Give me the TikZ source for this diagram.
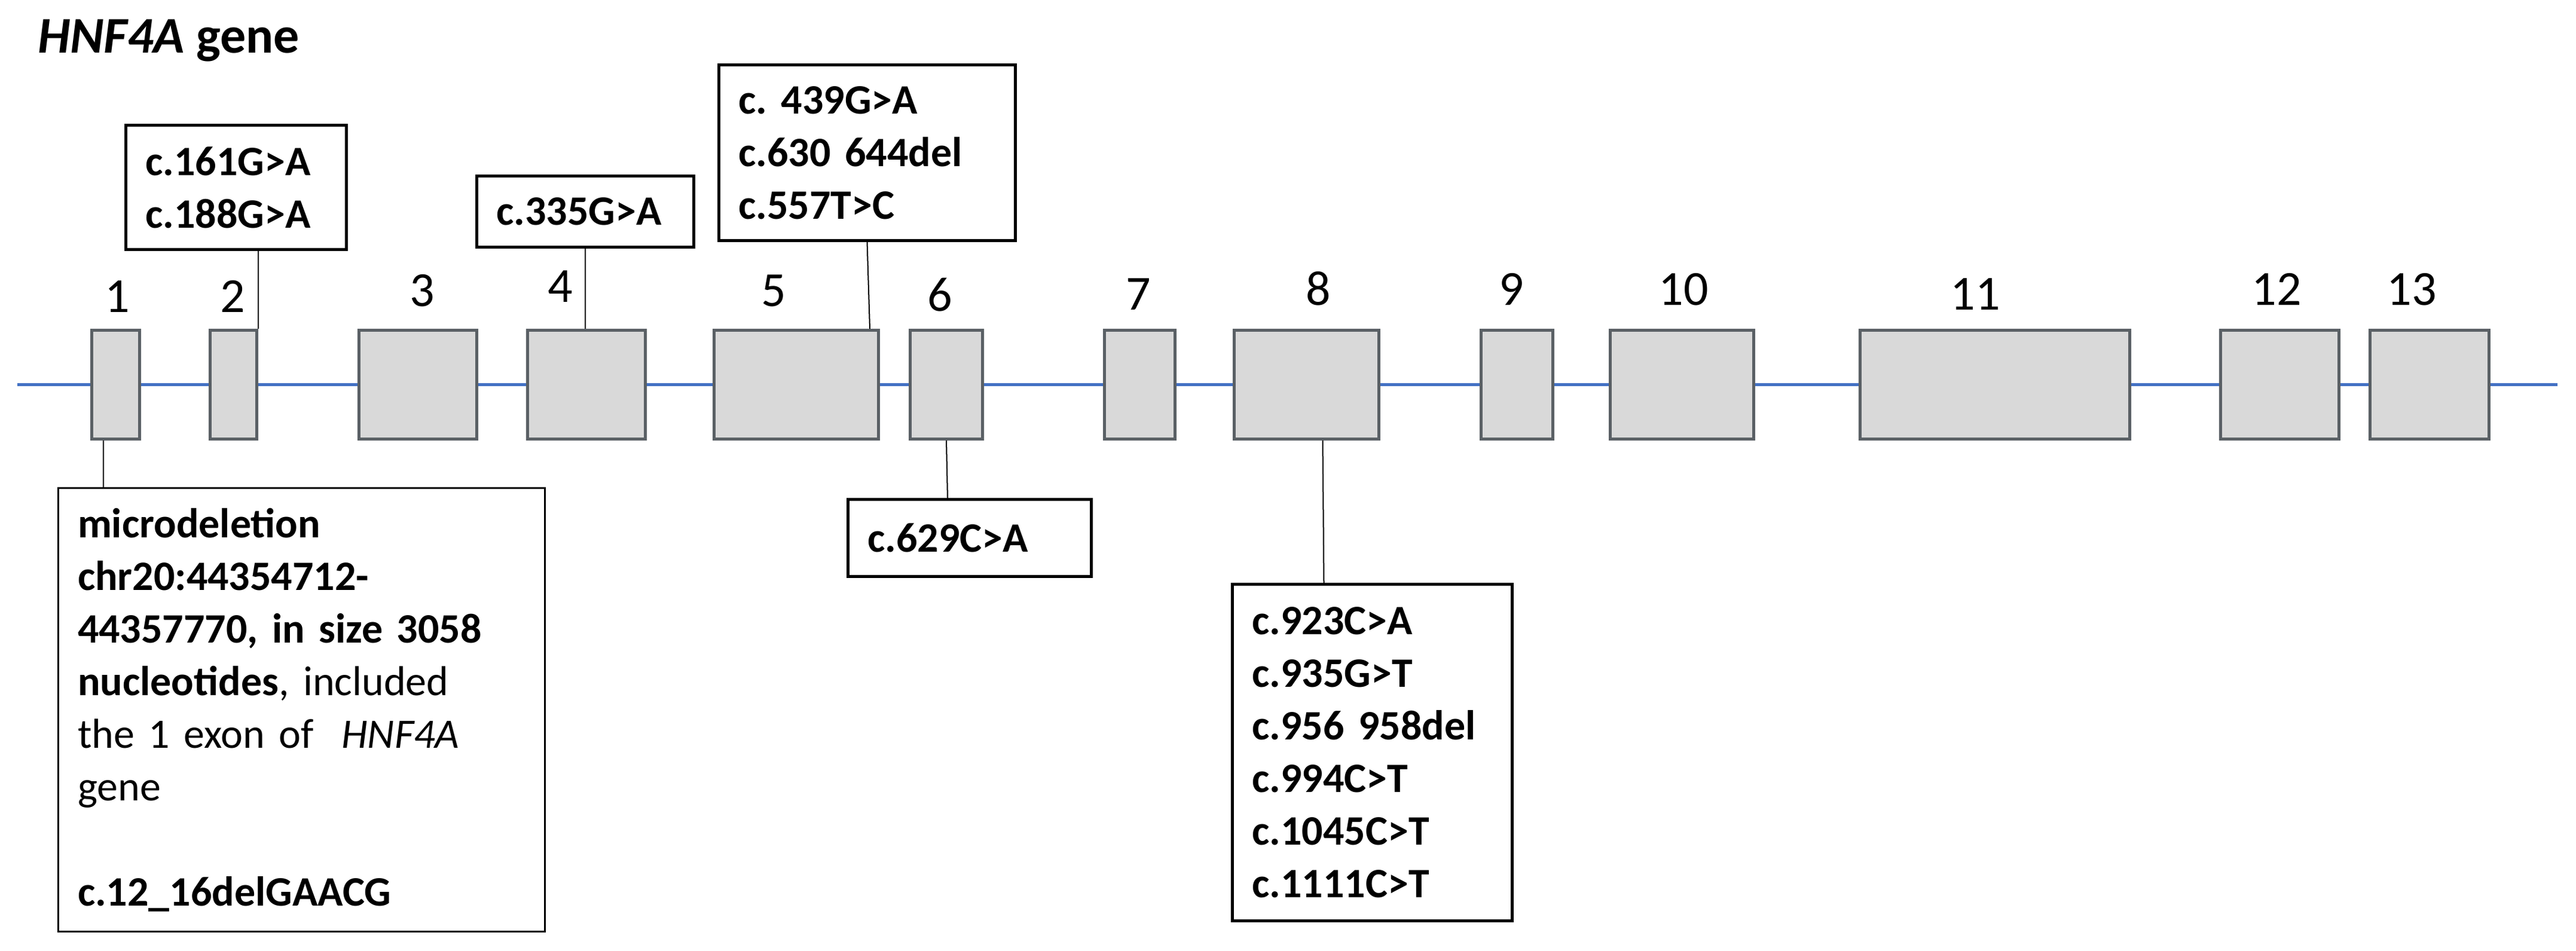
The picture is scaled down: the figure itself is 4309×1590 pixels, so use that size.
\documentclass[tikz,border=0pt]{standalone}
\usepackage{fontspec}
\setmainfont{Carlito}
\frenchspacing
\definecolor{exonfill}{HTML}{D9D9D9}
\definecolor{exondraw}{HTML}{5A6065}
\definecolor{intronblue}{HTML}{4472C4}
\tikzset{
  exon/.style={draw=exondraw, fill=exonfill, line width=5pt, inner sep=0pt, minimum height=182pt},
  mutbox/.style={draw=black, line width=5pt, fill=white, inner xsep=33pt, inner ysep=0pt, align=left,
    font=\fontsize{70}{88}\selectfont\bfseries},
  exnum/.style={anchor=base, inner sep=0pt, font=\fontsize{82}{82}\selectfont},
  conn/.style={draw=black, line width=2pt},
  intron/.style={draw=intronblue, line width=5pt}
}
\begin{document}
\begin{tikzpicture}[x=1pt,y=-1pt]
\useasboundingbox (0,0) rectangle (4309,1590);
% title
\node[anchor=base west, inner sep=0pt, font=\fontsize{86}{86}\selectfont\bfseries] (title) at (63,88) {\itshape HNF4A\upshape{} gene};
% intron line
\coordinate (ls) at (29,643.5);
\coordinate (le) at (4278,643.5);
\draw[intron] (ls) -- (le);
% exons
\node[exon, minimum width=80pt]  (e1)  at (193.5,643.5) {};
\node[exon, minimum width=78pt]  (e2)  at (390.5,643.5) {};
\node[exon, minimum width=197pt] (e3)  at (699,643.5) {};
\node[exon, minimum width=197pt] (e4)  at (981,643.5) {};
\node[exon, minimum width=275pt] (e5)  at (1332,643.5) {};
\node[exon, minimum width=121pt] (e6)  at (1583,643.5) {};
\node[exon, minimum width=118pt] (e7)  at (1906.5,643.5) {};
\node[exon, minimum width=242pt] (e8)  at (2185.5,643.5) {};
\node[exon, minimum width=120pt] (e9)  at (2537.5,643.5) {};
\node[exon, minimum width=240pt] (e10) at (2813.5,643.5) {};
\node[exon, minimum width=451pt] (e11) at (3337,643.5) {};
\node[exon, minimum width=198pt] (e12) at (3813.5,643.5) {};
\node[exon, minimum width=199pt] (e13) at (4064,643.5) {};
% exon numbers
\node[exnum] (n1)  at (196,522)  {1};
\node[exnum] (n2)  at (389,522)  {2};
\node[exnum] (n3)  at (706,512)  {3};
\node[exnum] (n4)  at (937,505)  {4};
\node[exnum] (n5)  at (1294,512) {5};
\node[exnum] (n6)  at (1572,520) {6};
\node[exnum] (n7)  at (1904,518) {7};
\node[exnum] (n8)  at (2205,510) {8};
\node[exnum] (n9)  at (2528,510) {9};
\node[exnum] (n10) at (2816,510) {10};
\node[exnum] (n11) at (3304,518) {11};
\node[exnum] (n12) at (3808,510) {12};
\node[exnum] (n13) at (4034,510) {13};
% mutation boxes
\node[mutbox, line width=3pt, font=\fontsize{70}{88}\selectfont, text width=748pt, minimum height=742pt] (b1) at (504,1187.5)
  {\textbf{microdeletion}\\
   \textbf{chr20:44354712-}\\
   \textbf{44357770, in size 3058}\\
   \textbf{nucleotides}, included\\
   the 1 exon of \ \textit{HNF4A}\\
   gene\\[88pt]
   \textbf{c.12\_16delGAACG}};
\node[mutbox, text width=303pt, minimum height=208pt] (b2) at (395,313.5) {c.161G>A\\c.188G>A};
\node[mutbox, text width=297pt, minimum height=119pt] (b4) at (979,354) {c.335G>A};
\node[mutbox, text width=430pt, minimum height=294pt] (b5) at (1450.5,255.5) {c. 439G>A\\c.630 644del\\c.557T>C};
\node[mutbox, text width=341pt, minimum height=129pt] (b6) at (1622,900) {c.629C>A};
\node[mutbox, text width=402pt, minimum height=563pt] (b8) at (2295.5,1259) {c.923C>A\\c.935G>T\\c.956 958del\\c.994C>T\\c.1045C>T\\c.1111C>T};
% connectors
\draw[conn] ([xshift=-21pt]e1.south) -- ([xshift=-21pt]e1.south |- b1.north);
\draw[conn] (b2.south -| e2.north east) -- (e2.north east);
\draw[conn] (b4.south) -- (b4.south |- e4.north);
\draw[conn] (b5.south) -- ([xshift=123pt]e5.north);
\draw[conn] (e6.south) -- ([xshift=2pt]e6.south |- b6.north);
\draw[conn] ([xshift=27pt]e8.south) -- ([xshift=29pt]e8.south |- b8.north);
\end{tikzpicture}
\end{document}
